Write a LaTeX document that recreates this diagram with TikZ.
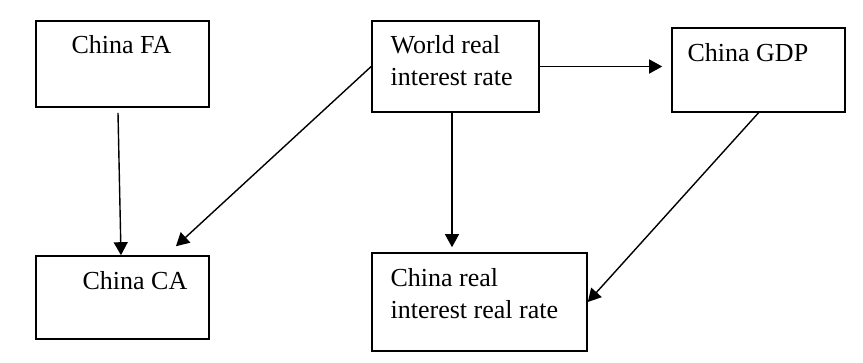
\documentclass[tikz,border=0pt]{standalone}
\usepackage{fontspec}
\setmainfont{Liberation Serif}
\usetikzlibrary{arrows.meta}
\tikzset{%
  box/.style = {draw, thick, inner sep=0pt},
  boxtext/.style = {inner sep=0pt, align=left, font=\fontsize{13}{16}\selectfont},
  arr/.style = {line width=0.7pt, -{Triangle[length=6.5pt,width=7pt]}},
}

\begin{document}
\begin{tikzpicture}[x=0.5pt,y=-0.5pt]
\useasboundingbox (0,0) rectangle (863,363);
 \node[box,minimum width=86.5pt,minimum height=43pt] (fa) at (122.5,64) {};
 \node[box,minimum width=86.5pt,minimum height=41.5pt] (ca) at (122.5,297.5) {};
 \node[box,minimum width=83.5pt,minimum height=45.5pt] (world) at (455.5,66.5) {};
 \node[box,minimum width=86.5pt,minimum height=42pt] (gdp) at (758.5,70) {};
 \node[box,minimum width=107.5pt,minimum height=49pt] (crr) at (479.5,302) {};
 \node[boxtext,anchor=base west] (fatext) at ([shift={(36,33)}]fa.north west) {China FA};
 \node[boxtext,anchor=base west] (catext) at ([shift={(47,34)}]ca.north west) {China CA};
 \node[boxtext,anchor=north west] (worldtext) at ([shift={(19,15)}]world.north west)
   {World real\\interest rate};
 \node[boxtext,anchor=base west] (gdptext) at ([shift={(16,34)}]gdp.north west) {China GDP};
 \node[boxtext,anchor=north west] (crrtext) at ([shift={(19,16)}]crr.north west)
   {China real\\interest real rate};
\draw[arr] ([shift={(-4.5,5)}]fa.south) -- ([shift={(-1.5,0)}]ca.north);
\draw[arr] (world.west) -- ([shift={(53.5,-9)}]ca.north);
\draw[arr] ([shift={(-3.5,0)}]world.south) -- ([shift={(-27.5,-5)}]crr.north);
\draw[arr,shorten >=4.5pt] (world.east) -- (world.east -| gdp.west);
\draw[arr] (gdp.south) -- (crr.east);
\end{tikzpicture}
\end{document}
